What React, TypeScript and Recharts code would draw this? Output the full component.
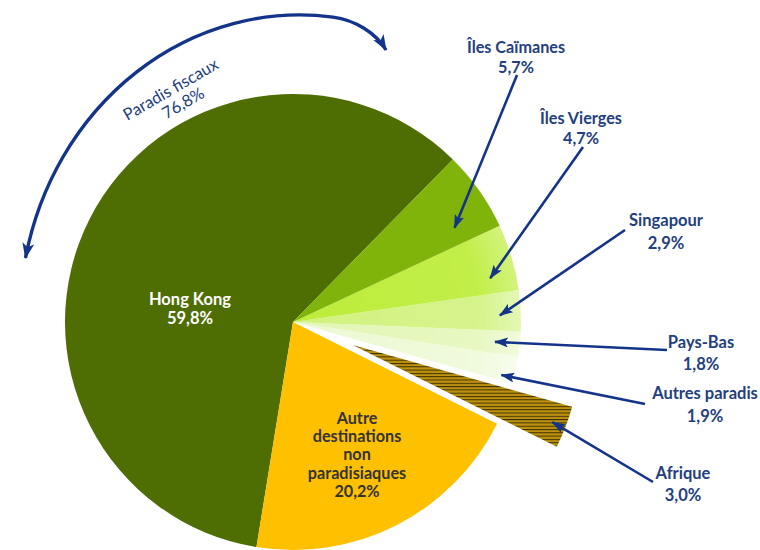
import React from 'react';
import { PieChart, Pie, Cell } from 'recharts';

// ---- data ----
const categories = [
  'Hong Kong',
  'Autre destinations non paradisiaques',
  'Afrique',
  'Autres paradis',
  'Pays-Bas',
  'Singapour',
  'Îles Vierges',
  'Îles Caïmanes',
];
const shares = [59.8, 20.2, 3.0, 1.9, 1.8, 2.9, 4.7, 5.7];
const taxHaven = [true, false, false, true, true, true, true, true];
const labelLines = [
  ['Hong Kong'],
  ['Autre', 'destinations', 'non', 'paradisiaques'],
  ['Afrique'],
  ['Autres paradis'],
  ['Pays-Bas'],
  ['Singapour'],
  ['Îles Vierges'],
  ['Îles Caïmanes'],
];
const groupTitle = 'Paradis fiscaux';

// ---- styling / layout (not data) ----
const COLORS = [
  '#4E6D03',
  '#FFC000',
  'url(#afriqueStripes)',
  'url(#gAutres)',
  'url(#gPays)',
  'url(#gSing)',
  'url(#gVierges)',
  '#80B40A',
];
const EXPLODED = 2;
const START = 45.5;
const CX = 293;
const CY = 322;
const R = 228;
const EXPLODE_DIST = 64;
const NAVY_TEXT = '#23407E';
const NAVY = '#14348A';
const FONT = 'Lato, "Open Sans", sans-serif';

type Lay = { x: number; y: number; lh: number; color: string; tail?: [number, number]; tipR?: number; tipDA?: number; size: number };
const LAYOUT: Lay[] = [
  { x: 190, y: 299, lh: 19, color: '#FFFFFF', size: 16.5 },
  { x: 357, y: 417, lh: 18.4, color: '#333333', size: 16.2 },
  { x: 683, y: 473, lh: 22, color: NAVY_TEXT, tail: [653, 482], tipR: 214, tipDA: 0, size: 16.5 },
  { x: 705, y: 393, lh: 23, color: NAVY_TEXT, tail: [645, 404], tipR: 215, tipDA: -2, size: 16.5 },
  { x: 701, y: 342, lh: 22, color: NAVY_TEXT, tail: [667, 350], tipR: 203, tipDA: 0, size: 16.5 },
  { x: 666, y: 220, lh: 23, color: NAVY_TEXT, tail: [625, 230], tipR: 207, tipDA: -1, size: 16.5 },
  { x: 581, y: 117.5, lh: 19.5, color: NAVY_TEXT, tail: [583, 147], tipR: 202, tipDA: -4, size: 16.2 },
  { x: 516, y: 46.5, lh: 19.5, color: NAVY_TEXT, tail: [517, 75], tipR: 187, tipDA: -5, size: 16.2 },
];

const RAD = Math.PI / 180;
const polar = (cx: number, cy: number, r: number, a: number): [number, number] => [
  cx + r * Math.cos(-a * RAD),
  cy + r * Math.sin(-a * RAD),
];
const fmt = (v: number) => v.toFixed(1).replace('.', ',') + '%';

const data = categories.map((name, i) => ({ name, value: shares[i] }));
const total = shares.reduce((a, b) => a + b, 0);
const havenTotal = shares.reduce((a, v, i) => (taxHaven[i] ? a + v : a), 0);

// mid angle of exploded slice, derived from data
const before = shares.slice(0, EXPLODED).reduce((a, b) => a + b, 0);
const explodeMid = START + ((before + shares[EXPLODED] / 2) / total) * 360;
const [ECX, ECY] = polar(CX, CY, EXPLODE_DIST, explodeMid);

const makeLabel = (exploded: boolean) => (props: any) => {
  const { index, cx, cy, midAngle } = props;
  if (exploded !== (index === EXPLODED)) return null;
  const L = LAYOUT[index];
  const lines = [...labelLines[index], fmt(shares[index])];
  let arrow = null;
  if (L.tail) {
    const [tx, ty] = polar(cx, cy, L.tipR as number, midAngle + (L.tipDA as number));
    arrow = (
      <line x1={L.tail[0]} y1={L.tail[1]} x2={tx} y2={ty} stroke={NAVY} strokeWidth={2.6} markerEnd="url(#arrowHead)" />
    );
  }
  return (
    <g key={`lbl-${index}`}>
      {arrow}
      {lines.map((t, k) => (
        <text
          key={k}
          x={L.x}
          y={L.y + k * L.lh}
          textAnchor="middle"
          dominantBaseline="central"
          fill={L.color}
          fontFamily={FONT}
          fontWeight={700}
          fontSize={L.size}
        >
          {t}
        </text>
      ))}
    </g>
  );
};

const radial = (id: string, inner: string, mid: string, outer: string) => (
  <radialGradient id={id} gradientUnits="userSpaceOnUse" cx={CX} cy={CY} r={R}>
    <stop offset="0" stopColor={inner} />
    <stop offset="0.82" stopColor={mid} />
    <stop offset="1" stopColor={outer} />
  </radialGradient>
);

export default function App() {
  return (
    <div style={{ position: 'absolute', left: 0, top: 0, width: 760, height: 550, background: '#fff' }}>
      <PieChart width={760} height={550} margin={{ top: 0, right: 0, bottom: 0, left: 0 }}>
        <defs>
          <marker id="arrowHead" markerUnits="userSpaceOnUse" markerWidth={14} markerHeight={10} refX={13} refY={5} orient="auto-start-reverse">
            <path d="M0,0 L14,5 L0,10 L3,5 Z" fill={NAVY} />
          </marker>
          <pattern id="afriqueStripes" patternUnits="userSpaceOnUse" width={6} height={3.3}>
            <rect x={0} y={0} width={6} height={3.3} fill="#BC9210" />
            <rect x={0} y={0} width={6} height={1} fill="#3E2F00" />
          </pattern>
          {radial('gVierges', '#BDEC3A', '#C2EE48', '#D2F37C')}
          {radial('gSing', '#D2F27E', '#D6F38C', '#E4F8B6')}
          {radial('gPays', '#E2F6B4', '#E7F8C2', '#F2FBDE')}
          {radial('gAutres', '#ECF9D2', '#F0FADC', '#F8FDEE')}
        </defs>
        <Pie
          data={data}
          dataKey="value"
          nameKey="name"
          cx={CX}
          cy={CY}
          outerRadius={R}
          startAngle={START}
          endAngle={START + 360}
          stroke="none"
          isAnimationActive={false}
          labelLine={false}
          label={makeLabel(false)}
        >
          {data.map((d, i) => (
            <Cell key={d.name} fill={i === EXPLODED ? 'none' : COLORS[i]} />
          ))}
        </Pie>
        <Pie
          data={data}
          dataKey="value"
          nameKey="name"
          cx={ECX}
          cy={ECY}
          outerRadius={R}
          startAngle={START}
          endAngle={START + 360}
          stroke="none"
          isAnimationActive={false}
          labelLine={false}
          label={makeLabel(true)}
        >
          {data.map((d, i) => (
            <Cell key={d.name} fill={i === EXPLODED ? COLORS[i] : 'none'} />
          ))}
        </Pie>
      </PieChart>
      <svg width={760} height={550} style={{ position: 'absolute', left: 0, top: 0, pointerEvents: 'none' }}>
        <defs>
          <marker id="arcHead" markerUnits="userSpaceOnUse" markerWidth={16} markerHeight={12} refX={15} refY={6} orient="auto-start-reverse">
            <path d="M0,0 L16,6 L0,12 L4,6 Z" fill={NAVY} />
          </marker>
        </defs>
        <path
          d="M 25.5 258 A 280 305 0 0 1 333 17.1 C 355 20, 376 33, 386 50"
          fill="none"
          stroke={NAVY}
          strokeWidth={3.4}
          markerStart="url(#arcHead)"
          markerEnd="url(#arcHead)"
        />
        <g transform="translate(175 97) rotate(-30)">
          <text x={0} y={-9} textAnchor="middle" dominantBaseline="central" fill={NAVY_TEXT} fontFamily={FONT} fontSize={16.5} fontWeight={400}>
            {groupTitle}
          </text>
          <text x={4} y={9} textAnchor="middle" dominantBaseline="central" fill={NAVY_TEXT} fontFamily={FONT} fontSize={16.5} fontWeight={400}>
            {fmt(havenTotal)}
          </text>
        </g>
      </svg>
    </div>
  );
}
